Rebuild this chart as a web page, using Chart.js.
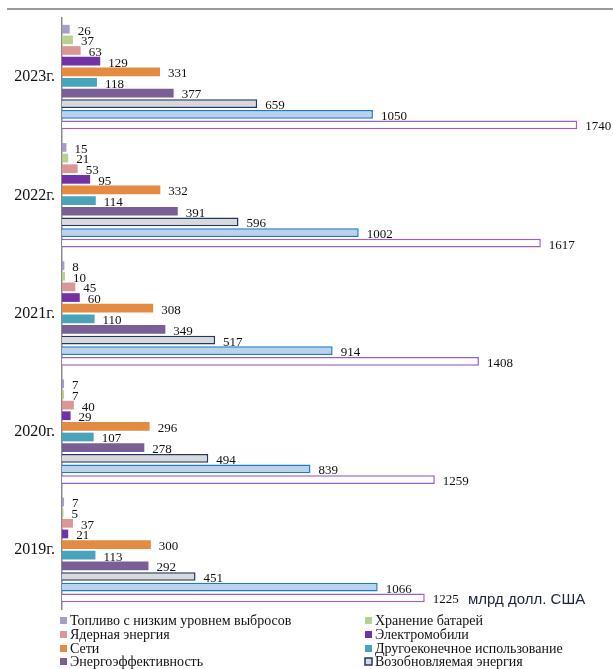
<!DOCTYPE html>
<html lang="ru">
<head>
<meta charset="utf-8">
<title>Инвестиции в энергетический переход</title>
<script src="https://cdn.jsdelivr.net/npm/chart.js@4/dist/chart.umd.min.js"></script>
<style>
  html, body { margin: 0; padding: 0; background: #fff; }
  #wrap { position: relative; width: 613px; height: 669px; }
  #rule { position: absolute; top: 8px; left: 7px; right: 0; border-top: 2px solid #9a9a9a; }
  canvas { display: block; }
</style>
</head>
<body>
<div id="wrap">
  <div id="rule"></div>
  <canvas id="chart" width="613" height="669"></canvas>
</div>
<script>
// Years, top to bottom
const years = ['2023г.', '2022г.', '2021г.', '2020г.', '2019г.'];

// Series names (legend order)
const seriesNames = [
  'Топливо с низким уровнем выбросов',
  'Хранение батарей',
  'Ядерная энергия',
  'Электромобили',
  'Сети',
  'Другоеконечное использование',
  'Энергоэффективность',
  'Возобновляемая энергия',
  'Чистые технологии',
  'Энергетический переход, всего'
];

// Values, млрд долл. США, one array per series, in the order of `years`
const lowEmissionFuels = [26, 15, 8, 7, 7];
const batteryStorage   = [37, 21, 10, 7, 5];
const nuclear          = [63, 53, 45, 40, 37];
const electricVehicles = [129, 95, 60, 29, 21];
const grids            = [331, 332, 308, 296, 300];
const otherEndUse      = [118, 114, 110, 107, 113];
const efficiency       = [377, 391, 349, 278, 292];
const renewables       = [659, 596, 517, 494, 451];
const cleanTech        = [1050, 1002, 914, 839, 1066];
const totalTransition  = [1740, 1617, 1408, 1259, 1225];

const unitLabel = 'млрд долл. США';

const seriesValues = [lowEmissionFuels, batteryStorage, nuclear, electricVehicles,
  grids, otherEndUse, efficiency, renewables, cleanTech, totalTransition];

const fills   = ['#a99cc9', '#b9d190', '#d99896', '#7232a3', '#e38b42', '#48a3bb', '#7a5e96', '#d9d9d9', '#bcd2ec', '#ffffff'];
const borders = [null, null, null, null, null, null, null, '#1f3864', '#1a7cc8', '#9b5fc9'];

const datasets = seriesValues.map((vals, i) => ({
  label: seriesNames[i],
  data: vals,
  backgroundColor: fills[i],
  borderColor: borders[i] || fills[i],
  borderWidth: borders[i] ? 1.5 : 0,
  barPercentage: 0.82,
  categoryPercentage: 0.9
}));

const SERIF = '"Liberation Serif", "Times New Roman", serif';

// Value labels to the right of each bar, unit caption, two-column legend
const decorations = {
  id: 'decorations',
  afterDatasetsDraw(chart) {
    const ctx = chart.ctx;
    ctx.save();
    ctx.fillStyle = '#111';
    ctx.font = '13px ' + SERIF;
    ctx.textAlign = 'left';
    ctx.textBaseline = 'middle';
    chart.data.datasets.forEach((ds, di) => {
      const meta = chart.getDatasetMeta(di);
      meta.data.forEach((bar, i) => {
        ctx.fillText(String(ds.data[i]), bar.x + 8, bar.y + 2);
      });
    });

    // unit caption
    ctx.fillStyle = '#1c2440';
    ctx.font = '15px "Liberation Sans", Arial, sans-serif';
    ctx.fillText(unitLabel, 468, 600);

    // legend
    ctx.font = '14px ' + SERIF;
    ctx.fillStyle = '#111';
    const colX = [60, 365];
    const rowY = [621, 635, 649, 662];
    for (let i = 0; i < 8; i++) {
      const ds = chart.data.datasets[i];
      const x = colX[i % 2];
      const y = rowY[Math.floor(i / 2)];
      ctx.fillStyle = ds.backgroundColor;
      ctx.fillRect(x, y - 4, 7, 7);
      if (ds.borderWidth) {
        ctx.strokeStyle = ds.borderColor;
        ctx.lineWidth = 1.5;
        ctx.strokeRect(x, y - 4, 7, 7);
      }
      ctx.fillStyle = '#111';
      ctx.fillText(ds.label, x + 10, y);
    }
    ctx.restore();
  }
};

new Chart(document.getElementById('chart'), {
  type: 'bar',
  data: { labels: years, datasets },
  plugins: [decorations],
  options: {
    indexAxis: 'y',
    responsive: false,
    animation: false,
    layout: { padding: { top: 18, bottom: 60, right: 18, left: 0 } },
    plugins: {
      legend: { display: false },
      tooltip: { enabled: false }
    },
    scales: {
      x: {
        display: false,
        min: 0,
        max: 1800
      },
      y: {
        afterFit(scale) { scale.width = 62; },
        grid: { display: false, drawTicks: false },
        border: { display: true, color: '#8a8a8a', width: 1.5 },
        ticks: {
          color: '#111',
          padding: 7,
          font: { family: SERIF, size: 16 }
        }
      }
    }
  }
});
</script>
</body>
</html>
